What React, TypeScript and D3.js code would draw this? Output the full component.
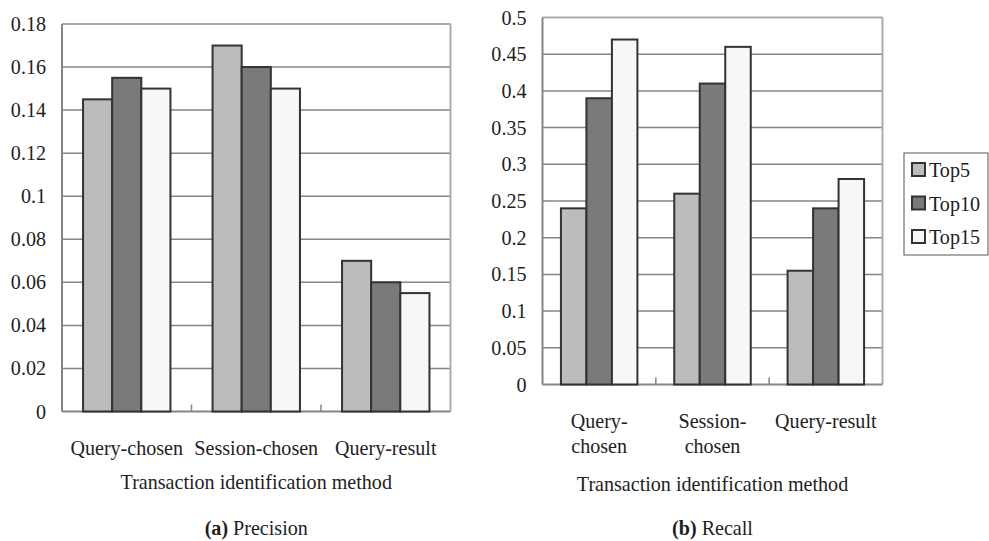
import * as d3 from 'd3'

const categories = ['Query-chosen', 'Session-chosen', 'Query-result']
const recallLabels = [['Query-', 'chosen'], ['Session-', 'chosen'], ['Query-result']]
const series = ['Top5', 'Top10', 'Top15']
const seriesColors = ['#bcbcbc', '#7a7a7a', '#f7f7f7']

const precisionTop5 = [0.145, 0.17, 0.07]
const precisionTop10 = [0.155, 0.16, 0.06]
const precisionTop15 = [0.15, 0.15, 0.055]
const precisionTicks = [0, 0.02, 0.04, 0.06, 0.08, 0.1, 0.12, 0.14, 0.16, 0.18]

const recallTop5 = [0.24, 0.26, 0.155]
const recallTop10 = [0.39, 0.41, 0.24]
const recallTop15 = [0.47, 0.46, 0.28]
const recallTicks = [0, 0.05, 0.1, 0.15, 0.2, 0.25, 0.3, 0.35, 0.4, 0.45, 0.5]

const FONT = '"Liberation Serif", "Times New Roman", serif'

// the reference text is a tall serif
const Txt = ({ x, y, anchor = 'start', children }: { x: number; y: number; anchor?: string; children: React.ReactNode }) => (
  <text
    transform={`translate(${x},${y}) scale(0.98,1)`}
    textAnchor={anchor}
    fontSize={20.5}
    style={{ fontFamily: FONT }}
  >
    {children}
  </text>
)

type PanelProps = {
  left: number
  right: number
  top: number
  bottom: number
  values: number[][]
  ticks: number[]
  max: number
  labels: string[][]
  labelY: number
  titleY: number
  caption: string
  captionBold: string
}

const Panel = ({ left, right, top, bottom, values, ticks, max, labels, labelY, titleY, caption, captionBold }: PanelProps) => {
  const y = d3.scaleLinear().domain([0, max]).range([bottom, top])
  const x0 = d3.scaleBand<string>().domain(categories).range([left, right])
  const groupWidth = x0.bandwidth() * 0.675
  const x1 = d3.scaleBand<string>().domain(series).range([0, groupWidth])
  const cx = (left + right) / 2

  return (
    <g>
      {/* gridlines */}
      {ticks.slice(1).map((t) => (
        <line key={t} x1={left} x2={right} y1={y(t)} y2={y(t)} stroke="#858585" strokeWidth={1.5} />
      ))}
      {/* plot border */}
      <line x1={right} x2={right} y1={top} y2={bottom} stroke="#ababab" strokeWidth={2} />
      <line x1={left} x2={right} y1={top} y2={top} stroke="#ababab" strokeWidth={1.5} />
      <line x1={left} x2={left} y1={top} y2={bottom} stroke="#858585" strokeWidth={2} />
      <line x1={left} x2={right} y1={bottom} y2={bottom} stroke="#858585" strokeWidth={2} />
      {/* category tick marks */}
      {categories.slice(1).map((c) => (
        <line key={c} x1={x0(c)} x2={x0(c)} y1={bottom} y2={bottom - 7} stroke="#858585" strokeWidth={1.5} />
      ))}
      {/* bars */}
      {categories.map((c, ci) => {
        const gx = (x0(c) ?? 0) + (x0.bandwidth() - groupWidth) / 2
        return series.map((s, si) => (
          <rect
            key={c + s}
            x={gx + (x1(s) ?? 0)}
            y={y(values[si][ci])}
            width={x1.bandwidth()}
            height={bottom - y(values[si][ci])}
            fill={seriesColors[si]}
            stroke="#333"
            strokeWidth={2}
          />
        ))
      })}
      {/* y tick labels */}
      {ticks.map((t) => (
        <Txt key={t} x={left - 16} y={y(t) + 7} anchor="end">
          {d3.format('')(+t.toFixed(3))}
        </Txt>
      ))}
      {/* category labels */}
      {categories.map((c, ci) =>
        labels[ci].map((line, li) => (
          <Txt key={c + li} x={(x0(c) ?? 0) + x0.bandwidth() / 2} y={labelY + li * 25} anchor="middle">
            {line}
          </Txt>
        ))
      )}
      <Txt x={cx} y={titleY} anchor="middle">
        Transaction identification method
      </Txt>
      <Txt x={cx} y={535} anchor="middle">
        <tspan fontWeight="bold">{captionBold}</tspan> {caption}
      </Txt>
    </g>
  )
}

const App = () => {
  const legendY = d3.scalePoint<string>().domain(series).range([169.5, 236.5])
  return (
    <svg
      width={989}
      height={541}
      style={{ position: 'absolute', left: 0, top: 0, background: '#fff' }}
      fill="#1e1e1e"
    >
      <Panel
        left={62}
        right={450.5}
        top={24}
        bottom={411.5}
        values={[precisionTop5, precisionTop10, precisionTop15]}
        ticks={precisionTicks}
        max={0.18}
        labels={categories.map((c) => [c])}
        labelY={455}
        titleY={489}
        captionBold="(a)"
        caption="Precision"
      />
      <Panel
        left={542.5}
        right={882.5}
        top={17.5}
        bottom={384.5}
        values={[recallTop5, recallTop10, recallTop15]}
        ticks={recallTicks}
        max={0.5}
        labels={recallLabels}
        labelY={428}
        titleY={491}
        captionBold="(b)"
        caption="Recall"
      />
      {/* legend */}
      <rect x={904} y={153} width={84} height={102} fill="#fff" stroke="#555" strokeWidth={1} />
      {series.map((s, si) => (
        <g key={s}>
          <rect
            x={912}
            y={(legendY(s) ?? 0) - 6.5}
            width={13}
            height={13}
            fill={seriesColors[si]}
            stroke="#333"
            strokeWidth={2}
          />
          <Txt x={929} y={(legendY(s) ?? 0) + 7.5}>
            {s}
          </Txt>
        </g>
      ))}
    </svg>
  )
}

export default App
